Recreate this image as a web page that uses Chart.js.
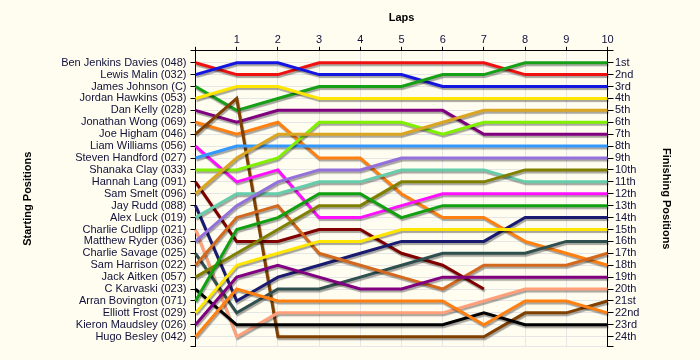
<!DOCTYPE html>
<html>
<head>
<meta charset="utf-8">
<script src="https://cdn.jsdelivr.net/npm/chart.js@4.4.1/dist/chart.umd.min.js"></script>
<style>
  html, body { margin: 0; padding: 0; background: #FFFDF0; }
  #wrap { width: 700px; height: 360px; }
</style>
</head>
<body>
<div id="wrap"><canvas id="c" width="700" height="360"></canvas></div>
<script>
// ---- Data ----
const laps = ['0','1','2','3','4','5','6','7','8','9','10'];
const startingNames = [
  'Ben Jenkins Davies (048)', 'Lewis Malin (032)', 'James Johnson (C)', 'Jordan Hawkins (053)',
  'Dan Kelly (028)', 'Jonathan Wong (069)', 'Joe Higham (046)', 'Liam Williams (056)',
  'Steven Handford (027)', 'Shanaka Clay (033)', 'Hannah Lang (091)', 'Sam Smelt (096)',
  'Jay Rudd (088)', 'Alex Luck (019)', 'Charlie Cudlipp (021)', 'Matthew Ryder (036)',
  'Charlie Savage (025)', 'Sam Harrison (022)', 'Jack Aitken (057)', 'C Karvaski (023)',
  'Arran Bovington (071)', 'Elliott Frost (029)', 'Kieron Maudsley (026)', 'Hugo Besley (042)'
];
const finishingLabels = ['1st','2nd','3rd','4th','5th','6th','7th','8th','9th','10th','11th','12th',
  '13th','14th','15th','16th','17th','18th','19th','20th','21st','22nd','23rd','24th'];

const benJenkinsDavies = [1,2,2,1,1,1,1,1,2,2,2];
const lewisMalin       = [2,1,1,2,2,2,3,3,3,3,3];
const jamesJohnson     = [3,5,4,3,3,3,2,2,1,1,1];
const jordanHawkins    = [4,3,3,4,4,4,4,4,4,4,4];
const danKelly         = [5,6,5,5,5,5,5,7,7,7,7];
const jonathanWong     = [6,7,6,9,9,12,14,14,16,17,18];
const joeHigham        = [7,4,24,24,24,24,24,24,22,22,21];
const liamWilliams     = [8,11,10,14,14,13,12,12,12,12,12];
const stevenHandford   = [9,8,8,8,8,8,8,8,8,8,8];
const shanakaClay      = [10,10,9,6,6,6,7,6,6,6,6];
const hannahLang       = [11,16,16,15,15,17,18,20,null,null,null];
const samSmelt         = [12,9,7,7,7,7,6,5,5,5,5];
const jayRudd          = [13,21,19,18,17,16,16,16,14,14,14];
const alexLuck         = [14,12,12,11,11,10,10,10,11,11,11];
const charlieCudlipp   = [15,24,22,22,22,22,22,21,20,20,20];
const matthewRyder     = [16,13,11,10,10,9,9,9,9,9,9];
const charlieSavage    = [17,22,20,20,19,18,17,17,17,16,16];
const samHarrison      = [18,14,13,17,18,19,20,18,18,18,17];
const jackAitken       = [19,17,15,13,13,11,11,11,10,10,10];
const cKarvaski        = [20,23,23,23,23,23,23,22,23,23,23];
const arranBovington   = [21,15,14,12,12,14,13,13,13,13,13];
const elliottFrost     = [22,18,17,16,16,15,15,15,15,15,15];
const kieronMaudsley   = [23,19,18,19,20,20,19,19,19,19,19];
const hugoBesley       = [24,20,21,21,21,21,21,23,21,21,22];

const driverSeries = [benJenkinsDavies, lewisMalin, jamesJohnson, jordanHawkins, danKelly,
  jonathanWong, joeHigham, liamWilliams, stevenHandford, shanakaClay, hannahLang, samSmelt,
  jayRudd, alexLuck, charlieCudlipp, matthewRyder, charlieSavage, samHarrison, jackAitken,
  cKarvaski, arranBovington, elliottFrost, kieronMaudsley, hugoBesley];

const driverColors = ['#F01010','#1515E0','#15A015','#FFE600','#800080','#FF8010','#804000','#FF10FF',
  '#3399FF','#80F000','#800000','#DAA520','#1A1A70','#66CDAA','#FFA07A','#9370DB',
  '#2F4F4F','#D2691E','#808000','#000000','#10A010','#FFE600','#800080','#FF8010'];

// ---- Chart ----
const TXT = '#10103a';
const GRID = '#E6E6E6';

const shadowPlugin = {
  id: 'shadow',
  beforeDatasetsDraw(chart) {
    const ctx = chart.ctx;
    ctx.save();
    ctx.shadowColor = 'rgba(0,0,0,0.35)';
    ctx.shadowOffsetX = 1;
    ctx.shadowOffsetY = 2;
    ctx.shadowBlur = 1;
  },
  afterDatasetsDraw(chart) { chart.ctx.restore(); }
};

const bgPlugin = {
  id: 'bg',
  beforeDraw(chart) {
    const ctx = chart.ctx;
    ctx.save();
    ctx.fillStyle = '#FFFDF0';
    ctx.fillRect(0, 0, chart.width, chart.height);
    ctx.restore();
  }
};

const Y_MAX = 24.84;
function posTicks(scale) {
  const t = [];
  for (let i = 0; i <= 24; i++) t.push({ value: i });
  t.push({ value: Y_MAX });
  scale.ticks = t;
}

new Chart(document.getElementById('c'), {
  type: 'line',
  data: {
    labels: laps,
    datasets: driverSeries.map((d, i) => ({
      label: startingNames[i],
      data: d,
      borderColor: driverColors[i],
      backgroundColor: driverColors[i],
      borderWidth: 3,
      pointRadius: 0,
      tension: 0,
      fill: false,
      yAxisID: 'y'
    })).reverse()
  },
  options: {
    responsive: false,
    animation: false,
    devicePixelRatio: 1,
    layout: { padding: { left: 0, right: 0, top: 0, bottom: 13.3 } },
    plugins: { legend: { display: false }, tooltip: { enabled: false } },
    scales: {
      x: {
        type: 'category',
        position: 'top',
        offset: false,
        afterFit(s) { s.height = 50.8; },
        grid: { color: GRID, tickColor: '#000', tickLength: 4, drawTicks: true },
        border: { color: '#000', width: 1 },
        ticks: {
          color: TXT, padding: 0, maxRotation: 0, autoSkip: false,
          font: { family: 'Liberation Sans, Arial, sans-serif', size: 11 },
          callback(v, i) { return i === 0 ? '' : laps[i]; }
        },
        title: {
          display: true, text: 'Laps', color: '#000',
          font: { family: 'Liberation Sans, Arial, sans-serif', size: 11, weight: 'bold' },
          padding: { top: 11.7, bottom: 0 }
        }
      },
      y: {
        type: 'linear',
        position: 'left',
        reverse: true,
        min: 0, max: Y_MAX,
        afterBuildTicks: posTicks,
        afterFit(s) { s.width = 195.5; },
        grid: { color: GRID, tickColor: '#000', tickLength: 5 },
        border: { color: '#000', width: 1 },
        ticks: {
          color: TXT, padding: 4, autoSkip: false,
          font: { family: 'Liberation Sans, Arial, sans-serif', size: 11 },
          callback(v) { return (Number.isInteger(v) && v >= 1 && v <= 24) ? startingNames[v - 1] : ''; }
        },
        title: {
          display: true, text: 'Starting Positions', color: '#000',
          font: { family: 'Liberation Sans, Arial, sans-serif', size: 11, weight: 'bold' },
          padding: { top: 21.4, bottom: 0 }
        }
      },
      y2: {
        type: 'linear',
        position: 'right',
        reverse: true,
        min: 0, max: Y_MAX,
        afterBuildTicks: posTicks,
        afterFit(s) { s.width = 92.5; },
        grid: { drawOnChartArea: false, tickColor: '#000', tickLength: 6 },
        border: { color: '#000', width: 1 },
        ticks: {
          color: TXT, padding: 1.5, autoSkip: false,
          font: { family: 'Liberation Sans, Arial, sans-serif', size: 11 },
          callback(v) { return (Number.isInteger(v) && v >= 1 && v <= 24) ? finishingLabels[v - 1] : ''; }
        },
        title: {
          display: true, text: 'Finishing Positions', color: '#000',
          font: { family: 'Liberation Sans, Arial, sans-serif', size: 11, weight: 'bold' },
          padding: { top: 27.4, bottom: 0 }
        }
      }
    }
  },
  plugins: [bgPlugin, shadowPlugin]
});
</script>
</body>
</html>
